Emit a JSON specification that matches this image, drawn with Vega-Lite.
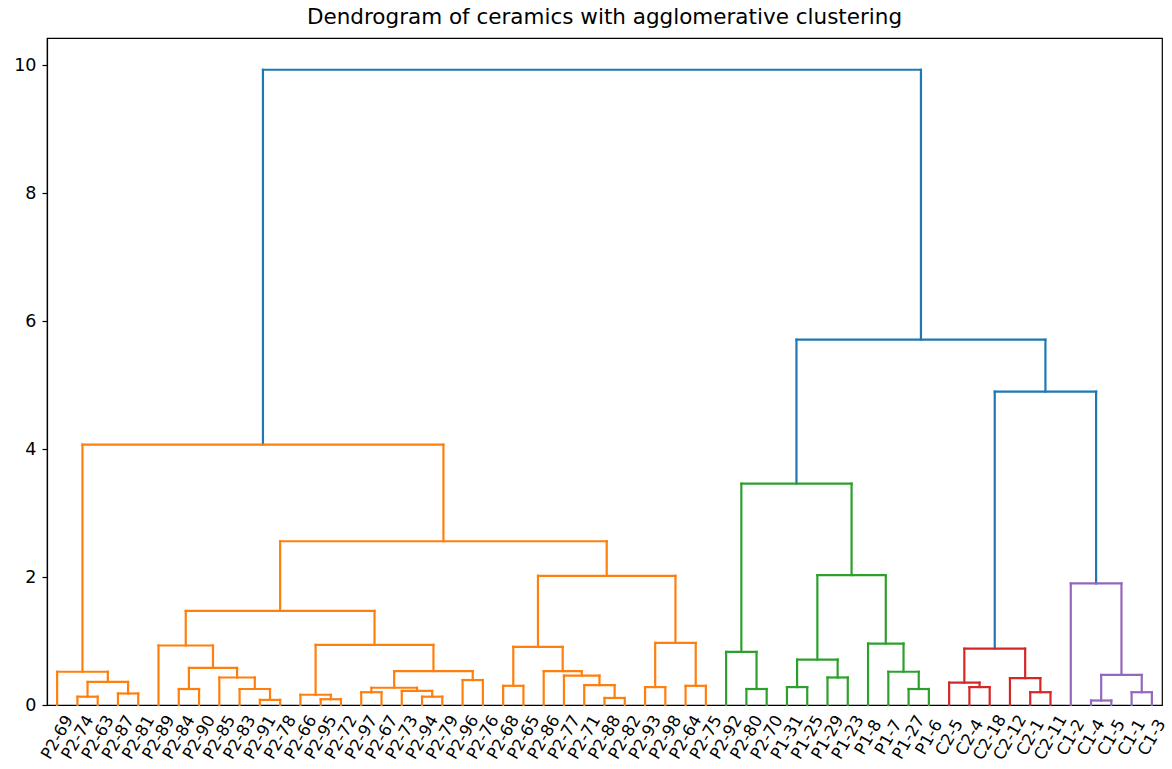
{
  "$schema": "https://vega.github.io/schema/vega-lite/v6.json",
  "width": 1115,
  "height": 667,
  "autosize": {"type": "none"},
  "padding": {"left": 47, "top": 38, "right": 10, "bottom": 64},
  "background": "white",
  "title": {
    "text": "Dendrogram of ceramics with agglomerative clustering",
    "font": "DejaVu Sans",
    "fontSize": 21.5,
    "fontWeight": "normal",
    "color": "black",
    "anchor": "middle",
    "offset": 10
  },
  "config": {
    "view": {"stroke": "black", "strokeWidth": 1.2},
    "axis": {"grid": false}
  },
  "datasets": {
    "links": [
      {"x1": 15, "x2": 25, "yl": 0, "yr": 0, "h": 0.13, "c": "C1"},
      {"x1": 35, "x2": 45, "yl": 0, "yr": 0, "h": 0.18, "c": "C1"},
      {"x1": 20, "x2": 40, "yl": 0.13, "yr": 0.18, "h": 0.36, "c": "C1"},
      {"x1": 5, "x2": 30, "yl": 0, "yr": 0.36, "h": 0.52, "c": "C1"},
      {"x1": 65, "x2": 75, "yl": 0, "yr": 0, "h": 0.25, "c": "C1"},
      {"x1": 105, "x2": 115, "yl": 0, "yr": 0, "h": 0.08, "c": "C1"},
      {"x1": 95, "x2": 110, "yl": 0, "yr": 0.08, "h": 0.25, "c": "C1"},
      {"x1": 85, "x2": 102.5, "yl": 0, "yr": 0.25, "h": 0.43, "c": "C1"},
      {"x1": 70, "x2": 93.75, "yl": 0.25, "yr": 0.43, "h": 0.58, "c": "C1"},
      {"x1": 55, "x2": 81.875, "yl": 0, "yr": 0.58, "h": 0.93, "c": "C1"},
      {"x1": 135, "x2": 145, "yl": 0, "yr": 0, "h": 0.09, "c": "C1"},
      {"x1": 125, "x2": 140, "yl": 0, "yr": 0.09, "h": 0.16, "c": "C1"},
      {"x1": 155, "x2": 165, "yl": 0, "yr": 0, "h": 0.20, "c": "C1"},
      {"x1": 185, "x2": 195, "yl": 0, "yr": 0, "h": 0.13, "c": "C1"},
      {"x1": 175, "x2": 190, "yl": 0, "yr": 0.13, "h": 0.22, "c": "C1"},
      {"x1": 160, "x2": 182.5, "yl": 0.20, "yr": 0.22, "h": 0.27, "c": "C1"},
      {"x1": 205, "x2": 215, "yl": 0, "yr": 0, "h": 0.39, "c": "C1"},
      {"x1": 171.25, "x2": 210, "yl": 0.27, "yr": 0.39, "h": 0.53, "c": "C1"},
      {"x1": 132.5, "x2": 190.625, "yl": 0.16, "yr": 0.53, "h": 0.94, "c": "C1"},
      {"x1": 68.4375, "x2": 161.5625, "yl": 0.93, "yr": 0.94, "h": 1.47, "c": "C1"},
      {"x1": 225, "x2": 235, "yl": 0, "yr": 0, "h": 0.30, "c": "C1"},
      {"x1": 275, "x2": 285, "yl": 0, "yr": 0, "h": 0.11, "c": "C1"},
      {"x1": 265, "x2": 280, "yl": 0, "yr": 0.11, "h": 0.31, "c": "C1"},
      {"x1": 255, "x2": 272.5, "yl": 0, "yr": 0.31, "h": 0.46, "c": "C1"},
      {"x1": 245, "x2": 263.75, "yl": 0, "yr": 0.46, "h": 0.53, "c": "C1"},
      {"x1": 230, "x2": 254.375, "yl": 0.30, "yr": 0.53, "h": 0.91, "c": "C1"},
      {"x1": 295, "x2": 305, "yl": 0, "yr": 0, "h": 0.28, "c": "C1"},
      {"x1": 315, "x2": 325, "yl": 0, "yr": 0, "h": 0.30, "c": "C1"},
      {"x1": 300, "x2": 320, "yl": 0.28, "yr": 0.30, "h": 0.97, "c": "C1"},
      {"x1": 242.1875, "x2": 310, "yl": 0.91, "yr": 0.97, "h": 2.02, "c": "C1"},
      {"x1": 115, "x2": 276.09375, "yl": 1.47, "yr": 2.02, "h": 2.56, "c": "C1"},
      {"x1": 17.5, "x2": 195.546875, "yl": 0.52, "yr": 2.56, "h": 4.07, "c": "C1"},
      {"x1": 345, "x2": 355, "yl": 0, "yr": 0, "h": 0.25, "c": "C2"},
      {"x1": 335, "x2": 350, "yl": 0, "yr": 0.25, "h": 0.83, "c": "C2"},
      {"x1": 365, "x2": 375, "yl": 0, "yr": 0, "h": 0.28, "c": "C2"},
      {"x1": 385, "x2": 395, "yl": 0, "yr": 0, "h": 0.43, "c": "C2"},
      {"x1": 370, "x2": 390, "yl": 0.28, "yr": 0.43, "h": 0.71, "c": "C2"},
      {"x1": 425, "x2": 435, "yl": 0, "yr": 0, "h": 0.25, "c": "C2"},
      {"x1": 415, "x2": 430, "yl": 0, "yr": 0.25, "h": 0.52, "c": "C2"},
      {"x1": 405, "x2": 422.5, "yl": 0, "yr": 0.52, "h": 0.96, "c": "C2"},
      {"x1": 380, "x2": 413.75, "yl": 0.71, "yr": 0.96, "h": 2.03, "c": "C2"},
      {"x1": 342.5, "x2": 396.875, "yl": 0.83, "yr": 2.03, "h": 3.46, "c": "C2"},
      {"x1": 455, "x2": 465, "yl": 0, "yr": 0, "h": 0.28, "c": "C3"},
      {"x1": 445, "x2": 460, "yl": 0, "yr": 0.28, "h": 0.35, "c": "C3"},
      {"x1": 485, "x2": 495, "yl": 0, "yr": 0, "h": 0.20, "c": "C3"},
      {"x1": 475, "x2": 490, "yl": 0, "yr": 0.20, "h": 0.42, "c": "C3"},
      {"x1": 452.5, "x2": 482.5, "yl": 0.35, "yr": 0.42, "h": 0.88, "c": "C3"},
      {"x1": 515, "x2": 525, "yl": 0, "yr": 0, "h": 0.07, "c": "C4"},
      {"x1": 535, "x2": 545, "yl": 0, "yr": 0, "h": 0.20, "c": "C4"},
      {"x1": 520, "x2": 540, "yl": 0.07, "yr": 0.20, "h": 0.47, "c": "C4"},
      {"x1": 505, "x2": 530, "yl": 0, "yr": 0.47, "h": 1.90, "c": "C4"},
      {"x1": 467.5, "x2": 517.5, "yl": 0.88, "yr": 1.90, "h": 4.90, "c": "C0"},
      {"x1": 369.6875, "x2": 492.5, "yl": 3.46, "yr": 4.90, "h": 5.71, "c": "C0"},
      {"x1": 106.5234, "x2": 431.0938, "yl": 4.07, "yr": 5.71, "h": 9.93, "c": "C0"}
    ],
    "leaves": [
      {"pos": 5, "name": "P2-69"}, {"pos": 15, "name": "P2-74"}, {"pos": 25, "name": "P2-63"},
      {"pos": 35, "name": "P2-87"}, {"pos": 45, "name": "P2-81"}, {"pos": 55, "name": "P2-89"},
      {"pos": 65, "name": "P2-84"}, {"pos": 75, "name": "P2-90"}, {"pos": 85, "name": "P2-85"},
      {"pos": 95, "name": "P2-83"}, {"pos": 105, "name": "P2-91"}, {"pos": 115, "name": "P2-78"},
      {"pos": 125, "name": "P2-66"}, {"pos": 135, "name": "P2-95"}, {"pos": 145, "name": "P2-72"},
      {"pos": 155, "name": "P2-97"}, {"pos": 165, "name": "P2-67"}, {"pos": 175, "name": "P2-73"},
      {"pos": 185, "name": "P2-94"}, {"pos": 195, "name": "P2-79"}, {"pos": 205, "name": "P2-96"},
      {"pos": 215, "name": "P2-76"}, {"pos": 225, "name": "P2-68"}, {"pos": 235, "name": "P2-65"},
      {"pos": 245, "name": "P2-86"}, {"pos": 255, "name": "P2-77"}, {"pos": 265, "name": "P2-71"},
      {"pos": 275, "name": "P2-88"}, {"pos": 285, "name": "P2-82"}, {"pos": 295, "name": "P2-93"},
      {"pos": 305, "name": "P2-98"}, {"pos": 315, "name": "P2-64"}, {"pos": 325, "name": "P2-75"},
      {"pos": 335, "name": "P2-92"}, {"pos": 345, "name": "P2-80"}, {"pos": 355, "name": "P2-70"},
      {"pos": 365, "name": "P1-31"}, {"pos": 375, "name": "P1-25"}, {"pos": 385, "name": "P1-29"},
      {"pos": 395, "name": "P1-23"}, {"pos": 405, "name": "P1-8"}, {"pos": 415, "name": "P1-7"},
      {"pos": 425, "name": "P1-27"}, {"pos": 435, "name": "P1-6"}, {"pos": 445, "name": "C2-5"},
      {"pos": 455, "name": "C2-4"}, {"pos": 465, "name": "C2-18"}, {"pos": 475, "name": "C2-12"},
      {"pos": 485, "name": "C2-1"}, {"pos": 495, "name": "C2-11"}, {"pos": 505, "name": "C1-2"},
      {"pos": 515, "name": "C1-4"}, {"pos": 525, "name": "C1-5"}, {"pos": 535, "name": "C1-1"},
      {"pos": 545, "name": "C1-3"}
    ]
  },
  "layer": [
    {
      "data": {"name": "links"},
      "mark": {"type": "rule", "strokeWidth": 2.2, "strokeCap": "square"},
      "encoding": {
        "x": {"field": "x1", "type": "quantitative", "scale": {"domain": [0, 550], "nice": false, "zero": false}, "axis": null},
        "y": {"field": "yl", "type": "quantitative", "scale": {"domain": [0, 10.4265], "nice": false},
          "axis": {"values": [0, 2, 4, 6, 8, 10], "format": "d", "title": null, "labelFont": "DejaVu Sans", "labelFontSize": 17.5, "labelColor": "black", "domainColor": "black", "domainWidth": 1.2, "tickColor": "black", "tickSize": 5, "tickWidth": 1.2, "labelPadding": 6}},
        "y2": {"field": "h"},
        "color": {"field": "c", "type": "nominal", "scale": {"domain": ["C0", "C1", "C2", "C3", "C4"], "range": ["#1f77b4", "#ff7f0e", "#2ca02c", "#d62728", "#9467bd"]}, "legend": null}
      }
    },
    {
      "data": {"name": "links"},
      "mark": {"type": "rule", "strokeWidth": 2.2, "strokeCap": "square"},
      "encoding": {
        "x": {"field": "x2", "type": "quantitative"},
        "y": {"field": "yr", "type": "quantitative"},
        "y2": {"field": "h"},
        "color": {"field": "c", "type": "nominal"}
      }
    },
    {
      "data": {"name": "links"},
      "mark": {"type": "rule", "strokeWidth": 2.2, "strokeCap": "square"},
      "encoding": {
        "x": {"field": "x1", "type": "quantitative"},
        "x2": {"field": "x2"},
        "y": {"field": "h", "type": "quantitative"},
        "color": {"field": "c", "type": "nominal"}
      }
    },
    {
      "data": {"name": "leaves"},
      "mark": {"type": "text", "font": "DejaVu Sans", "fontSize": 16.5, "color": "black", "angle": 300, "align": "center", "baseline": "middle", "dx": -28, "dy": 16.5},
      "encoding": {
        "x": {"field": "pos", "type": "quantitative"},
        "y": {"datum": 0, "type": "quantitative"},
        "text": {"field": "name"}
      }
    }
  ]
}
